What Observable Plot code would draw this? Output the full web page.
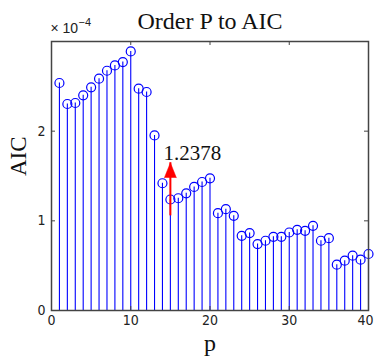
<!DOCTYPE html>
<html>
<head>
<meta charset="utf-8">
<script src="https://cdn.jsdelivr.net/npm/d3@7"></script>
<script src="https://cdn.jsdelivr.net/npm/@observablehq/plot@0.6"></script>
<style>
  html, body { margin: 0; padding: 0; background: #fff; }
</style>
</head>
<body>
<div id="chart"></div>
<script>
// Data (AIC values in units of 1e-4)
const orders = d3.range(1, 41);
const aic = [2.537, 2.303, 2.314, 2.40, 2.489, 2.585, 2.674, 2.733, 2.77, 2.889,
             2.474, 2.437, 1.952, 1.419, 1.2378, 1.252, 1.307, 1.378, 1.433, 1.474,
             1.085, 1.13, 1.056, 0.833, 0.863, 0.741, 0.778, 0.822, 0.822, 0.87,
             0.90, 0.889, 0.944, 0.778, 0.807, 0.511, 0.556, 0.611, 0.567, 0.63];
const xTicks = [0, 10, 20, 30, 40];
const yTicks = [0, 1, 2];
const titleText = "Order P to AIC";
const xLabel = "p";
const yLabel = "AIC";
// Annotation: selected order and its label
const annotP = [15];
const annotLabel = ["1.2378"];
const annotArrowFrom = [1.167];
const annotArrowTo = [1.648];

const data = orders.map((p, i) => ({p, v: aic[i]}));
const annot = annotP.map((p, i) => ({p, label: annotLabel[i], y: aic[p - 1], from: annotArrowFrom[i], to: annotArrowTo[i]}));

const W = 375, H = 356, mL = 51, mR = 7, mT = 41, mB = 46;
const fh = H - mT - mB, fw = W - mL - mR;
const tickLen = 4;
const tickFont = "'DejaVu Sans Condensed', 'Liberation Sans Narrow', 'Liberation Sans', sans-serif";
const serif = "'Liberation Serif', 'DejaVu Serif', serif";
const lastX = xTicks[xTicks.length - 1];

const chart = Plot.plot({
  width: W,
  height: H,
  marginLeft: mL,
  marginRight: mR,
  marginTop: mT,
  marginBottom: mB,
  style: {fontFamily: tickFont, fontSize: "14px", background: "#fff", color: "#000"},
  x: {domain: [0, 40]},
  y: {domain: [0, 3]},
  marks: [
    // stems
    Plot.ruleX(data, {x: "p", y1: 0, y2: "v", stroke: "#0000ff", strokeWidth: 1.1}),
    Plot.dot(data, {x: "p", y: "v", r: 4.5, stroke: "#0000ff", strokeWidth: 1.2, fill: "none"}),
    // frame
    Plot.frame({stroke: "#444", strokeWidth: 1.5}),
    // inward ticks
    Plot.tickX(xTicks, {x: d => d, insetTop: fh - tickLen, stroke: "#444"}),
    Plot.tickX(xTicks, {x: d => d, insetBottom: fh - tickLen, stroke: "#444"}),
    Plot.tickY(yTicks, {y: d => d, insetRight: fw - tickLen, stroke: "#444"}),
    Plot.tickY(yTicks, {y: d => d, insetLeft: fw - tickLen, stroke: "#444"}),
    // axes labels
    Plot.axisX({ticks: xTicks.slice(0, -1), tickSize: 0, tickPadding: 5, label: null, fontSize: 14, tickFormat: d => String(d), fill: "#222"}),
    Plot.axisX({ticks: [lastX], tickSize: 0, tickPadding: 5, label: null, fontSize: 14, tickFormat: d => String(d), fill: "#222", textAnchor: "end", dx: 5}),
    Plot.axisY({ticks: yTicks, tickSize: 0, tickPadding: 6, label: null, fontSize: 14, tickFormat: d => String(d), fill: "#222"}),
    // annotation arrow
    Plot.ruleX(annot, {x: "p", y1: "from", y2: "to", stroke: "red", strokeWidth: 2, insetTop: 10}),
    Plot.vector(annot, {x: "p", y: "to", length: 15, rotate: 0, shape: "spike", r: 6, anchor: "end", fill: "red", stroke: "red", strokeWidth: 0.5}),
    Plot.text(annot, {x: "p", y: "y", text: "label", textAnchor: "start", lineAnchor: "bottom", dx: -7, dy: -40, fontFamily: serif, fontSize: 21, fill: "#111"}),
    // title
    Plot.text([titleText], {frameAnchor: "top", text: d => d, lineAnchor: "bottom", dy: -13, fontFamily: serif, fontSize: 24, fill: "#111"}),
    // exponent
    Plot.text(["× 10"], {frameAnchor: "top-left", text: d => d, textAnchor: "start", lineAnchor: "bottom", dx: -1, dy: -9, fontFamily: "'Liberation Sans', sans-serif", fontSize: 14, fill: "#222"}),
    Plot.text(["−4"], {frameAnchor: "top-left", text: d => d, textAnchor: "start", lineAnchor: "bottom", dx: 27, dy: -16, fontFamily: "'Liberation Sans', sans-serif", fontSize: 11, fill: "#222"}),
    // axis titles
    Plot.text([xLabel], {frameAnchor: "bottom", text: d => d, lineAnchor: "bottom", dy: 40, fontFamily: serif, fontSize: 24, fill: "#111"}),
    Plot.text([yLabel], {frameAnchor: "left", text: d => d, rotate: -90, lineAnchor: "middle", dx: -33, fontFamily: serif, fontSize: 23, fill: "#111"})
  ]
});
document.getElementById("chart").appendChild(chart);
</script>
</body>
</html>
